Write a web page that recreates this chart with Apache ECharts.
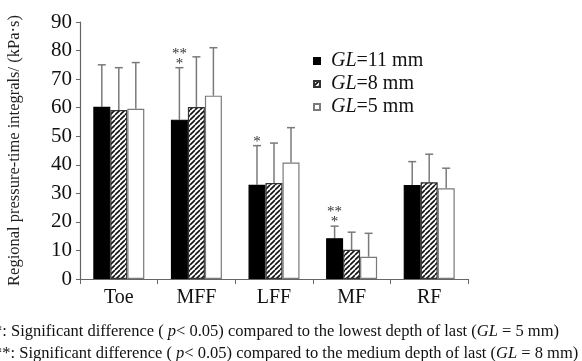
<!DOCTYPE html>
<html>
<head>
<meta charset="utf-8">
<script src="https://cdn.jsdelivr.net/npm/echarts@6/dist/echarts.min.js"></script>
<style>
  html, body { margin: 0; padding: 0; background: #fff; }
  #chart { width: 582px; height: 361px; }
</style>
</head>
<body>
<div id="chart"></div>
<script>
  // data
  const regions = ['Toe', 'MFF', 'LFF', 'MF', 'RF'];
  const seriesNames = ['GL=11 mm', 'GL=8 mm', 'GL=5 mm'];
  const mean11 = [60.3, 55.8, 33, 14.3, 32.9];
  const mean8 = [59.2, 60.2, 33.6, 10.2, 33.9];
  const mean5 = [59.6, 64.2, 40.8, 7.8, 31.8];
  const top11 = [75, 74, 46.7, 18.5, 41.1];
  const top8 = [74, 77.8, 47.6, 16.4, 43.7];
  const top5 = [75.8, 81, 53, 16, 38.8];
  const stars11 = ['', '**\n*', '*', '**\n*', ''];
  const yTicks = [0, 10, 20, 30, 40, 50, 60, 70, 80, 90];

  const serif = '"Liberation Serif", "DejaVu Serif", serif';

  // hatch pattern for the middle bars
  const hatch = document.createElement('canvas');
  hatch.width = 5; hatch.height = 5;
  (function () {
    const c = hatch.getContext('2d');
    c.fillStyle = '#fff';
    c.fillRect(0, 0, 5, 5);
    c.strokeStyle = '#111';
    c.lineWidth = 1.6;
    c.beginPath();
    for (let k = -5; k <= 5; k += 5) {
      c.moveTo(k, 5);
      c.lineTo(k + 5, 0);
    }
    c.stroke();
  })();

  const barW = 17;
  const means = [mean11, mean8, mean5];
  const tops = [top11, top8, top5];
  const fills = ['#000', { image: hatch, repeat: 'repeat' }, '#fff'];
  const borders = ['#000', '#333', '#7a7a7a'];

  const errData = [];
  regions.forEach((r, i) => {
    for (let s = 0; s < 3; s++) {
      errData.push([i, means[s][i], tops[s][i], s, s === 0 ? stars11[i] : '']);
    }
  });

  const chart = echarts.init(document.getElementById('chart'));
  chart.setOption({
    animation: false,
    grid: { left: 80, right: 114, top: 22, bottom: 82, outerBoundsMode: 'none', containLabel: false },
    legend: {
      orient: 'vertical',
      left: 313,
      top: 51,
      padding: 0,
      itemWidth: 6,
      itemHeight: 6,
      itemGap: 3,
      icon: 'rect',
      data: seriesNames,
      formatter: n => '{i|GL}{n|' + n.slice(2) + '}',
      textStyle: {
        padding: [0, 0, 0, 6],
        rich: {
          i: { fontFamily: serif, fontStyle: 'italic', fontSize: 20, lineHeight: 20, color: '#111' },
          n: { fontFamily: serif, fontSize: 20, lineHeight: 20, color: '#111' }
        }
      }
    },
    xAxis: {
      type: 'category',
      data: regions,
      axisLine: { lineStyle: { color: '#666', width: 1.2 } },
      axisTick: { show: true, length: 5, lineStyle: { color: '#666' } },
      axisLabel: { fontFamily: serif, fontSize: 20, color: '#111', margin: 9 }
    },
    yAxis: {
      type: 'value',
      min: yTicks[0],
      max: yTicks[yTicks.length - 1],
      interval: 10,
      name: 'Regional pressure-time integrals/ (kPa·s)',
      nameLocation: 'middle',
      nameRotate: 90,
      nameGap: 57,
      nameTextStyle: { fontFamily: serif, fontSize: 16.5, color: '#222' },
      splitLine: { show: false },
      axisLine: { show: true, lineStyle: { color: '#666', width: 1.2 } },
      axisTick: { show: true, length: 4, lineStyle: { color: '#666' } },
      axisLabel: { fontFamily: serif, fontSize: 21, color: '#111', margin: 8 }
    },
    series: [
      ...seriesNames.map((n, s) => ({
        name: n,
        type: 'bar',
        data: means[s],
        barWidth: barW,
        barGap: '0%',
        itemStyle: { color: fills[s], borderColor: borders[s], borderWidth: 1.2 }
      })),
      {
        type: 'custom',
        data: errData,
        z: 1,
        renderItem: (params, api) => {
          const cat = api.value(0);
          const s = api.value(3);
          const p0 = api.coord([cat, api.value(1)]);
          const p1 = api.coord([cat, api.value(2)]);
          const x = p0[0] + (s - 1) * barW;
          const stars = errData[params.dataIndex][4];
          const children = [
            { type: 'line', shape: { x1: x, y1: p0[1], x2: x, y2: p1[1] }, style: { stroke: '#7a7a7a', lineWidth: 1.5 } },
            { type: 'line', shape: { x1: x - 4, y1: p1[1], x2: x + 4, y2: p1[1] }, style: { stroke: '#7a7a7a', lineWidth: 1.5 } }
          ];
          if (stars) {
            const n = stars.split('\n').length;
            children.push({
              type: 'text',
              style: {
                x: x, y: p1[1] - 9 - 10 * (n - 1),
                text: stars, align: 'center', verticalAlign: 'top',
                font: '15px ' + serif, lineHeight: 10, fill: '#333'
              }
            });
          }
          return { type: 'group', children: children };
        }
      }
    ],
    graphic: [
      {
        type: 'text', left: -6, top: 323,
        style: {
          text: '*: Significant difference ( {i|p}< 0.05) compared to the lowest depth of last ({i|GL} = 5 mm)',
          font: '16.5px ' + serif, fill: '#111',
          rich: { i: { fontStyle: 'italic', fontFamily: serif, fontSize: 16.5 } }
        }
      },
      {
        type: 'text', left: -6, top: 345,
        style: {
          text: '**: Significant difference ( {i|p}< 0.05) compared to the medium depth of last ({i|GL} = 8 mm)',
          font: '16.5px ' + serif, fill: '#111',
          rich: { i: { fontStyle: 'italic', fontFamily: serif, fontSize: 16.5 } }
        }
      }
    ]
  });
</script>
</body>
</html>
